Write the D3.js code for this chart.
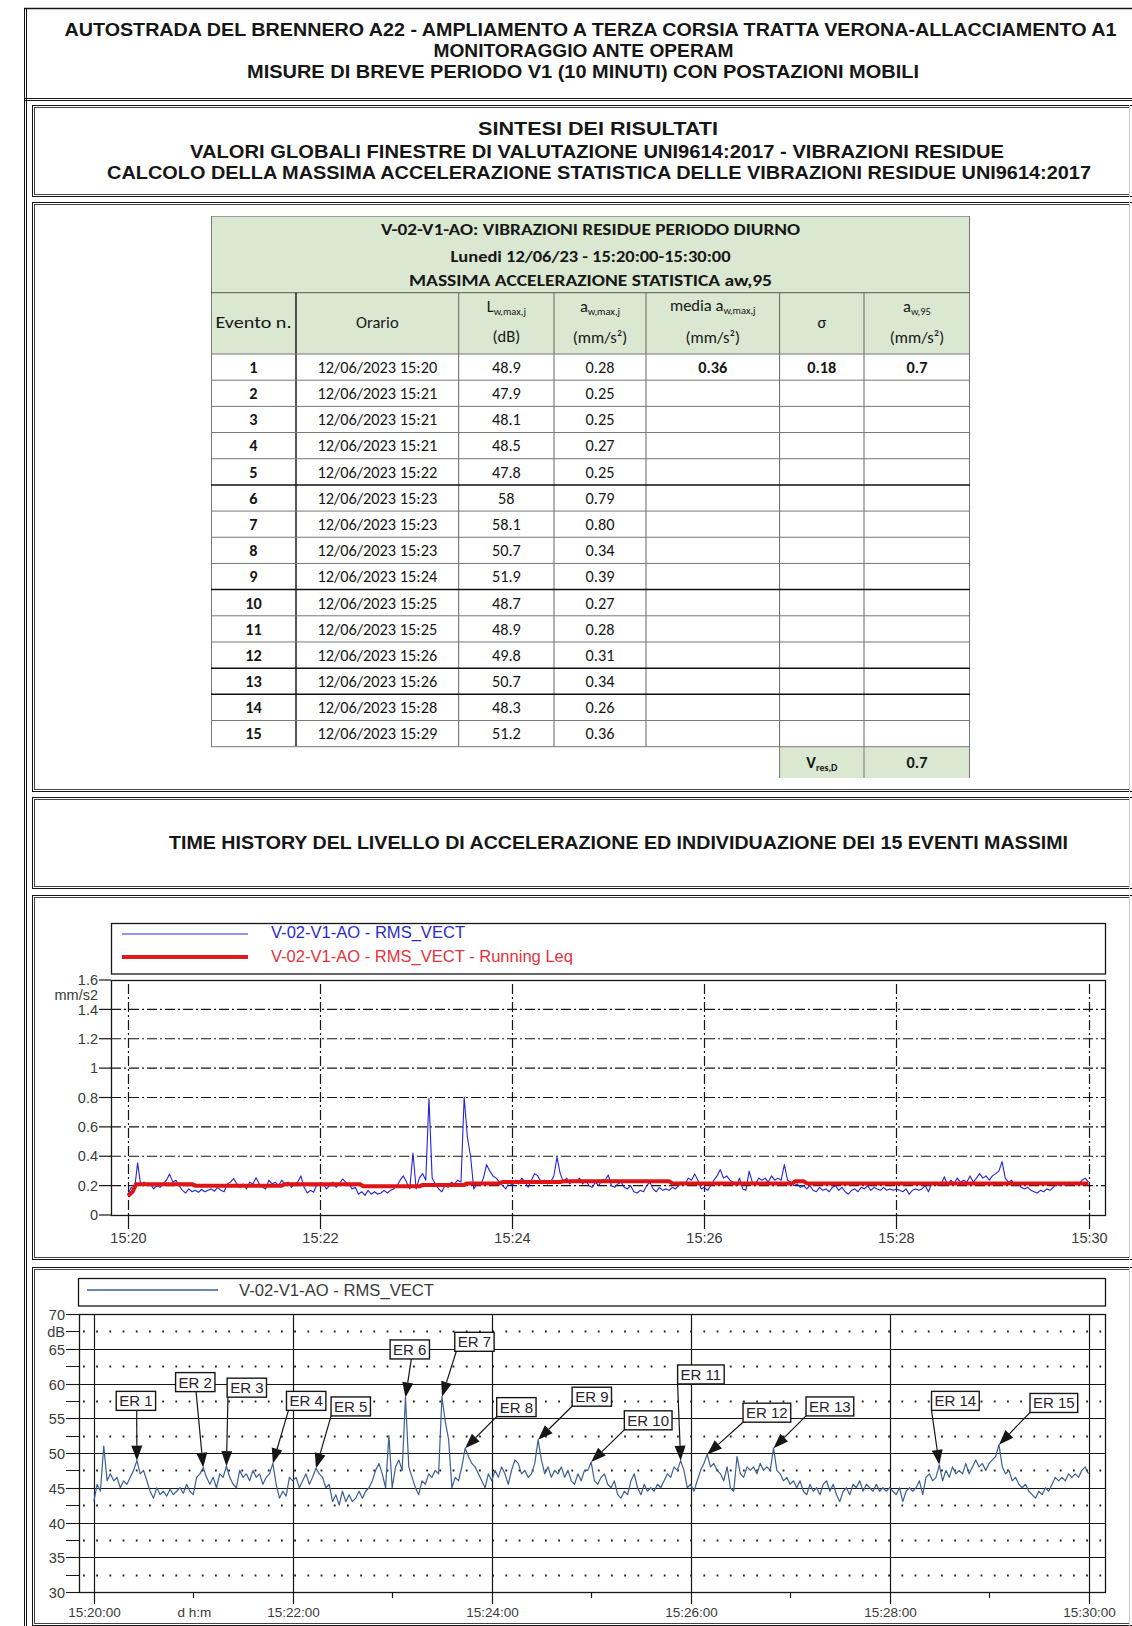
<!DOCTYPE html>
<html>
<head>
<meta charset="utf-8">
<title>V-02-V1-AO - vibrazioni residue</title>
<script src="https://cdn.jsdelivr.net/npm/d3@7/dist/d3.min.js"></script>
<style>
  html, body { margin: 0; padding: 0; background: #fff; }
  svg { display: block; }
</style>
</head>
<body>
<svg id="page" width="1132" height="1626"></svg>
<script>
// ---------------- report headings ----------------
const reportTitle = [
  "AUTOSTRADA DEL BRENNERO A22 - AMPLIAMENTO A TERZA CORSIA TRATTA VERONA-ALLACCIAMENTO A1",
  "MONITORAGGIO ANTE OPERAM",
  "MISURE DI BREVE PERIODO V1 (10 MINUTI) CON POSTAZIONI MOBILI"
];
const summaryTitle = [
  "SINTESI DEI RISULTATI",
  "VALORI GLOBALI FINESTRE DI VALUTAZIONE UNI9614:2017 - VIBRAZIONI RESIDUE",
  "CALCOLO DELLA MASSIMA ACCELERAZIONE STATISTICA DELLE VIBRAZIONI RESIDUE UNI9614:2017"
];
const historyTitle = "TIME HISTORY DEL LIVELLO DI ACCELERAZIONE ED INDIVIDUAZIONE DEI 15 EVENTI MASSIMI";

// ---------------- event table ----------------
const tableCaption = [
  "V-02-V1-AO: VIBRAZIONI RESIDUE PERIODO DIURNO",
  "Lunedi 12/06/23  - 15:20:00-15:30:00",
  "MASSIMA ACCELERAZIONE STATISTICA aw,95"
];
const eventNumbers = [1, 2, 3, 4, 5, 6, 7, 8, 9, 10, 11, 12, 13, 14, 15];
const eventTimes = [
  "12/06/2023 15:20", "12/06/2023 15:21", "12/06/2023 15:21", "12/06/2023 15:21",
  "12/06/2023 15:22", "12/06/2023 15:23", "12/06/2023 15:23", "12/06/2023 15:23",
  "12/06/2023 15:24", "12/06/2023 15:25", "12/06/2023 15:25", "12/06/2023 15:26",
  "12/06/2023 15:26", "12/06/2023 15:28", "12/06/2023 15:29"
];
const eventLevels = [48.9, 47.9, 48.1, 48.5, 47.8, 58, 58.1, 50.7, 51.9, 48.7, 48.9, 49.8, 50.7, 48.3, 51.2];
const eventAccels = ["0.28", "0.25", "0.25", "0.27", "0.25", "0.79", "0.80", "0.34", "0.39",
                     "0.27", "0.28", "0.31", "0.34", "0.26", "0.36"];
const meanAccel = "0.36";
const sigmaAccel = "0.18";
const aw95Value = "0.7";
const vResDValue = "0.7";

// ---------------- time histories ----------------
const startTime = new Date(2023, 5, 12, 15, 20, 0);
const endTime = new Date(2023, 5, 12, 15, 30, 0);
const sampleStepSec = 2;
// RMS_VECT level, dB re 1e-6 m/s2, one value every 2 s from 15:20:00
const levelDb = [
  43.0,45.5,44.5,51.0,46.0,47.0,46.0,46.5,45.0,46.0,
  45.5,46.5,47.5,48.9,47.0,47.5,46.0,44.5,43.5,45.0,
  44.0,44.5,43.8,44.8,44.0,44.5,45.0,44.2,45.5,44.5,
  44.0,46.5,47.0,47.9,46.5,45.5,46.5,45.0,47.0,46.5,
  48.1,46.5,45.5,45.0,47.5,46.5,47.0,46.0,47.5,46.5,
  47.0,45.5,46.5,47.0,48.5,45.5,43.5,44.5,43.8,46.5,
  46.0,46.5,45.0,46.0,47.0,45.5,46.5,47.8,47.0,46.5,
  45.0,45.5,43.0,44.0,42.5,44.5,43.0,44.0,43.0,43.5,
  44.5,43.5,44.5,45.0,46.0,47.5,48.5,47.0,45.0,52.5,
  45.0,48.0,49.0,47.5,58.0,48.0,46.5,45.0,44.0,46.0,
  45.5,47.0,46.5,47.5,47.0,58.1,54.5,52.0,45.0,46.5,
  46.0,48.0,50.7,49.5,48.5,48.0,47.0,46.0,45.0,47.0,
  46.0,47.5,46.5,48.0,47.0,45.5,47.5,49.0,48.5,47.0,
  47.5,46.5,47.0,48.5,51.9,49.0,47.0,48.0,46.5,47.5,
  47.0,48.0,46.5,47.5,46.0,45.5,47.0,46.0,47.5,47.5,
  48.7,46.0,45.5,46.5,47.0,45.5,45.0,46.0,44.0,43.5,
  44.5,44.0,46.0,47.0,45.0,44.0,45.5,44.5,45.0,44.5,
  45.5,45.0,46.0,47.0,46.5,48.0,47.5,48.9,47.5,45.0,
  45.5,44.5,46.0,47.5,48.5,49.8,48.0,48.5,47.5,47.0,
  46.0,48.0,45.0,44.5,49.5,47.0,46.5,48.0,47.5,48.0,
  47.0,48.5,47.5,48.0,47.5,50.7,47.5,47.0,46.0,46.5,
  45.5,46.0,45.0,46.0,44.5,44.0,45.5,44.5,45.0,44.0,
  45.5,46.0,44.5,45.5,44.0,43.0,44.5,45.0,44.0,45.5,
  45.0,46.0,44.5,45.5,45.0,44.5,45.5,44.5,45.0,44.5,
  45.0,44.5,44.0,45.0,43.0,44.5,45.0,44.5,45.0,46.0,
  44.0,46.5,47.0,46.0,46.5,48.3,46.0,47.5,46.5,48.0,
  47.0,47.5,47.0,48.5,47.0,48.0,49.0,48.0,48.5,47.5,
  48.5,49.0,49.5,51.2,48.0,47.0,47.5,46.0,46.5,45.5,
  45.0,45.5,44.5,44.0,43.5,44.5,44.0,45.0,44.5,45.5,
  46.5,46.0,46.5,46.0,47.0,46.5,47.0,46.5,47.5,48.0,
  47.0
];
// Running Leq of the acceleration, [seconds from 15:20:00, mm/s2]
const runningLeq = [
  [0, 0.13], [3, 0.16], [5, 0.21], [40, 0.21], [42, 0.2], [96, 0.2], [98, 0.21],
  [145, 0.21], [147, 0.195], [182, 0.195], [184, 0.205], [210, 0.205], [212, 0.215],
  [232, 0.215], [234, 0.225], [270, 0.225], [272, 0.23], [338, 0.23], [340, 0.215],
  [415, 0.215], [417, 0.23], [422, 0.23], [424, 0.215], [600, 0.215]
];
// ER callouts: event instant (s from 15:20:00), box centre (s, dB), arrow start along box bottom
const eventOffsetSec = [26, 66, 80, 108, 134, 188, 210, 224, 268, 300, 354, 370, 410, 510, 546];
const eventLabelAt = [
  [25.4, 57.5], [61.2, 60.2], [92.3, 59.4], [128.1, 57.5], [155, 56.7],
  [190.6, 64.9], [229.6, 66.0], [254.9, 56.6], [300.4, 58.1], [334.4, 54.7],
  [366.2, 61.3], [406, 55.8], [444, 56.7], [519.7, 57.5], [579.1, 57.2]
];
const eventArrowFrom = [0.52, 0.52, 0.02, 0.05, 0, 0.54, 0.04, 0, 0, 0, 0, 0, 0, 0, 0];

const accelTicks = [0, 0.2, 0.4, 0.6, 0.8, 1, 1.2, 1.4, 1.6];
const levelTicks = [30, 35, 40, 45, 50, 55, 60, 65, 70];
const levelHalfTicks = [32.5, 37.5, 42.5, 47.5, 52.5, 57.5, 62.5, 67.5];

// ---------------- drawing ----------------
const svg = d3.select("#page");
const ARIAL = "'Liberation Sans', Arial, Helvetica, sans-serif";
const CALIBRI = "Carlito, Lato, 'Open Sans', sans-serif";
const INK = "#161616";
const at = s => new Date(+startTime + s * 1000);

function line(g, x1, y1, x2, y2, stroke = INK, w = 1, dash = null) {
  const l = g.append("line").attr("x1", x1).attr("y1", y1).attr("x2", x2).attr("y2", y2)
    .attr("stroke", stroke).attr("stroke-width", w);
  if (dash) l.attr("stroke-dasharray", dash);
  return l;
}
function label(g, str, x, yc, size, opts = {}) {
  const t = g.append("text").attr("x", x).attr("y", yc + size * 0.36)
    .attr("font-family", opts.family || ARIAL).attr("font-size", size)
    .attr("font-weight", opts.bold ? "bold" : "normal")
    .attr("fill", opts.fill || INK)
    .attr("text-anchor", opts.anchor || "middle")
    .text(str);
  if (opts.width) t.attr("textLength", opts.width).attr("lengthAdjust", "spacingAndGlyphs");
  return t;
}

// page frame
const frame = svg.append("g");
line(frame, 24.5, 8, 24.5, 1626);
line(frame, 26.5, 8, 26.5, 1626);
line(frame, 24, 8.5, 1132, 8.5, INK, 1.6);
line(frame, 24, 98.5, 1132, 98.5);
line(frame, 24, 100.5, 1132, 100.5);

function section(y0, y1) {
  line(frame, 32, y0 + 0.5, 1132, y0 + 0.5);
  line(frame, 34, y0 + 2.5, 1129, y0 + 2.5, "#444");
  line(frame, 32.5, y0, 32.5, y1);
  line(frame, 34.5, y0 + 2, 34.5, y1 - 2, "#444");
  line(frame, 32, y1 - 0.5, 1132, y1 - 0.5);
  line(frame, 34, y1 - 2.5, 1129, y1 - 2.5, "#444");
  line(frame, 1129.5, y0, 1129.5, y1, "#c8c8c8");
}
section(105, 197);
section(202, 792);
section(797, 889);
section(895, 1260);
section(1267, 1626);

// headings
const head = svg.append("g");
const titleGeom = [[590.5, 29.5, 1052], [583.5, 50.5, 300], [583, 71.5, 672]];
reportTitle.forEach((s, i) => label(head, s, titleGeom[i][0], titleGeom[i][1], 18, { bold: true, width: titleGeom[i][2] }));
const summaryGeom = [[598, 128.5, 240], [597, 151.5, 814], [599, 173, 984]];
summaryTitle.forEach((s, i) => label(head, s, summaryGeom[i][0], summaryGeom[i][1], 18, { bold: true, width: summaryGeom[i][2] }));
label(head, historyTitle, 618.5, 843, 18, { bold: true, width: 899 });

// ---------------- table ----------------
const tab = svg.append("g");
const cols = [211, 296, 458.7, 554, 646, 779.6, 864, 970];
const capTop = 216, headTop = 292.7, bodyTop = 354, rowH = 26.18;
const bodyBottom = bodyTop + rowH * eventNumbers.length;
const GREEN = "#dae8d2";
tab.append("rect").attr("x", cols[0]).attr("y", capTop).attr("width", cols[7] - cols[0])
  .attr("height", bodyTop - capTop).attr("fill", GREEN);
tab.append("rect").attr("x", cols[5]).attr("y", bodyBottom).attr("width", cols[7] - cols[5])
  .attr("height", 31.3).attr("fill", GREEN);

const capY = [229, 256.5, 280.5], capW = [419, 280, 363];
tableCaption.forEach((s, i) => label(tab, s, 590.5, capY[i], 16, { bold: true, family: CALIBRI, width: capW[i] }));

// grid
line(tab, cols[0], capTop + 0.5, cols[7], capTop + 0.5, "#9a9a9a");
line(tab, cols[0] + 0.5, capTop, cols[0] + 0.5, bodyBottom, "#777");
line(tab, cols[7] - 0.5, capTop, cols[7] - 0.5, bodyBottom, "#777");
line(tab, cols[0], headTop, cols[7], headTop, "#555");
cols.slice(1, 7).forEach((cx, i) => {
  line(tab, cx, headTop, cx, bodyBottom, i === 0 ? "#111" : "#666", i === 0 ? 1.4 : 1);
});
const heavyRows = [5, 9, 12, 13];
d3.range(eventNumbers.length + 1).forEach(i => {
  const heavy = heavyRows.includes(i);
  line(tab, cols[0], bodyTop + i * rowH, cols[7], bodyTop + i * rowH, heavy ? "#111" : "#777", heavy ? 1.5 : 1);
});
[cols[5], cols[6], cols[7] - 0.5].forEach(cx => line(tab, cx, bodyBottom, cx, bodyBottom + 31.3, "#777"));

// header cells
const HF = 16.5;
function colMid(i) { return (cols[i] + cols[i + 1]) / 2; }
function headerWithSub(g, main, sub, x, yc) {
  const t = g.append("text").attr("x", x).attr("y", yc + HF * 0.36).attr("text-anchor", "middle")
    .attr("font-family", CALIBRI).attr("font-size", HF).attr("fill", INK);
  t.append("tspan").text(main);
  t.append("tspan").attr("font-size", 10.5).attr("dy", 3).text(sub);
  return t;
}
label(tab, "Evento n.", colMid(0), 322, HF, { family: CALIBRI, width: 76 });
label(tab, "Orario", colMid(1), 322, HF, { family: CALIBRI });
headerWithSub(tab, "L", "w,max,j", colMid(2), 306);
label(tab, "(dB)", colMid(2), 336, HF, { family: CALIBRI });
headerWithSub(tab, "a", "w,max,j", colMid(3), 306);
label(tab, "(mm/s\u00b2)", colMid(3), 337, HF, { family: CALIBRI });
headerWithSub(tab, "media a", "w,max,j", colMid(4), 305);
label(tab, "(mm/s\u00b2)", colMid(4), 337, HF, { family: CALIBRI });
label(tab, "\u03c3", colMid(5), 322, HF, { family: CALIBRI });
headerWithSub(tab, "a", "w,95", colMid(6), 306);
label(tab, "(mm/s\u00b2)", colMid(6), 337, HF, { family: CALIBRI });

// body rows
const BF = 16.3;
eventNumbers.forEach((n, i) => {
  const yc = bodyTop + i * rowH + rowH / 2;
  label(tab, String(n), colMid(0), yc, BF, { family: CALIBRI, bold: true });
  label(tab, eventTimes[i], colMid(1), yc, BF, { family: CALIBRI });
  label(tab, String(eventLevels[i]), colMid(2), yc, BF, { family: CALIBRI });
  label(tab, eventAccels[i], colMid(3), yc, BF, { family: CALIBRI });
});
const firstRowY = bodyTop + rowH / 2;
label(tab, meanAccel, colMid(4), firstRowY, BF, { family: CALIBRI, bold: true });
label(tab, sigmaAccel, colMid(5), firstRowY, BF, { family: CALIBRI, bold: true });
label(tab, aw95Value, colMid(6), firstRowY, BF, { family: CALIBRI, bold: true });
const vresY = bodyBottom + 15.5;
const vt = tab.append("text").attr("x", colMid(5)).attr("y", vresY + BF * 0.36).attr("text-anchor", "middle")
  .attr("font-family", CALIBRI).attr("font-size", BF).attr("font-weight", "bold").attr("fill", INK);
vt.append("tspan").text("V");
vt.append("tspan").attr("font-size", 10).attr("dy", 3).text("res,D");
label(tab, vResDValue, colMid(6), vresY, BF, { family: CALIBRI, bold: true });

// ---------------- chart 1: acceleration (mm/s2) ----------------
const c1 = svg.append("g");
const P1 = { left: 111, right: 1106, top: 980, bottom: 1215 };
const x1 = d3.scaleTime().domain([startTime, endTime]).range([128, 1088.5]);
const y1 = d3.scaleLinear().domain([0, 1.6]).range([P1.bottom, P1.top]);
const DASHDOT = "10,3,2,3";

// legend
c1.append("rect").attr("x", P1.left + 0.5).attr("y", 923.5).attr("width", P1.right - P1.left - 1)
  .attr("height", 50.5).attr("fill", "#fff").attr("stroke", INK).attr("stroke-width", 1.3);
line(c1, 122, 934, 248, 934, "#2b2bd6", 1.2);
line(c1, 122, 957, 248, 957, "#e01b1b", 4.2);
label(c1, "V-02-V1-AO - RMS_VECT", 271, 932, 16, { anchor: "start", fill: "#2b2bd0", width: 194 });
label(c1, "V-02-V1-AO - RMS_VECT - Running Leq", 271, 956, 16, { anchor: "start", fill: "#e5323a", width: 302 });

// grid
accelTicks.forEach(v => {
  const yy = y1(v);
  line(c1, 99, yy, P1.left, yy, INK, 1.2);
  if (v > 0 && v < 1.6) line(c1, P1.left, yy, P1.right, yy, INK, 1.2, DASHDOT);
  label(c1, String(v), 98, yy, 14.5, { anchor: "end", fill: "#3a3a3a" });
});
label(c1, "mm/s2", 98, 995, 14.5, { anchor: "end", fill: "#3a3a3a" });
x1.ticks(d3.timeMinute.every(2)).forEach(d => {
  const xx = Math.round(x1(d)) + 0.5;
  line(c1, xx, 984, xx, P1.bottom, INK, 1.2, DASHDOT);
  line(c1, xx, P1.bottom, xx, 1229, INK, 1.2);
  label(c1, d3.timeFormat("%H:%M")(d), xx, 1238, 14.5, { fill: "#3a3a3a" });
});

// series (acceleration from the level: a = 10^(L/20) * 1e-3 mm/s2)
const accelSeries = levelDb.map((L, i) => ({ t: at(i * sampleStepSec), a: Math.pow(10, L / 20) / 1000 }));
c1.append("path").datum(accelSeries)
  .attr("d", d3.line().x(d => x1(d.t)).y(d => y1(d.a)))
  .attr("fill", "none").attr("stroke", "#2424d8").attr("stroke-width", 1.1).attr("stroke-linejoin", "round");
c1.append("path").datum(runningLeq)
  .attr("d", d3.line().x(d => x1(at(d[0]))).y(d => y1(d[1])))
  .attr("fill", "none").attr("stroke", "#e01414").attr("stroke-width", 4).attr("stroke-linejoin", "round");

c1.append("rect").attr("x", P1.left + 0.5).attr("y", P1.top + 0.5)
  .attr("width", P1.right - P1.left - 1).attr("height", P1.bottom - P1.top)
  .attr("fill", "none").attr("stroke", INK).attr("stroke-width", 1.3);

// ---------------- chart 2: level (dB) with ER events ----------------
const c2 = svg.append("g");
const P2 = { left: 79, right: 1106, top: 1314, bottom: 1592 };
const x2 = d3.scaleTime().domain([startTime, endTime]).range([93.8, 1088.5]);
const y2 = d3.scaleLinear().domain([30, 70]).range([P2.bottom, P2.top]);
const TRACE = "#3b5f94";

c2.append("rect").attr("x", 78.5).attr("y", 1278.5).attr("width", P2.right - 79)
  .attr("height", 27.5).attr("fill", "#fff").attr("stroke", INK).attr("stroke-width", 1.3);
line(c2, 87, 1290, 218, 1290, TRACE, 1.3);
label(c2, "V-02-V1-AO - RMS_VECT", 239, 1290, 16, { anchor: "start", fill: "#3a3a3a", width: 195 });

levelHalfTicks.forEach(v => {
  const yy = Math.round(y2(v)) + 0.5;
  line(c2, 66, yy, P2.left, yy, INK, 1);
  line(c2, P2.left + 4, yy, P2.right, yy, "#222", 1.8, "1.8,11.4");
});
levelTicks.forEach(v => {
  const yy = Math.round(y2(v)) + 0.5;
  line(c2, 66, yy, P2.left, yy, INK, 1.1);
  if (v > 30 && v < 70) line(c2, P2.left, yy, P2.right, yy, INK, 1.2);
  label(c2, String(v), 65, yy, 14.5, { anchor: "end", fill: "#3a3a3a" });
});
label(c2, "dB", 65, y2(67.5), 14.5, { anchor: "end", fill: "#3a3a3a" });

x2.ticks(d3.timeMinute.every(1)).forEach(d => {
  const xx = Math.round(x2(d)) + 0.5;
  if (d.getMinutes() % 2 === 0) {
    line(c2, xx, P2.top, xx, 1604, INK, 1.2);
    label(c2, d3.timeFormat("%H:%M:%S")(d), xx, 1612, 13.5, { fill: "#3a3a3a" });
  } else {
    line(c2, xx, P2.bottom, xx, 1598, INK, 1.2);
  }
});
label(c2, "d h:m", x2(at(60)) + 1, 1612, 13.5, { fill: "#3a3a3a" });

const levelSeries = levelDb.map((L, i) => ({ t: at(i * sampleStepSec), L }));
c2.append("path").datum(levelSeries)
  .attr("d", d3.line().x(d => x2(d.t)).y(d => y2(d.L)))
  .attr("fill", "none").attr("stroke", TRACE).attr("stroke-width", 1.2).attr("stroke-linejoin", "round");

c2.append("rect").attr("x", P2.left + 0.5).attr("y", P2.top + 0.5)
  .attr("width", P2.right - P2.left - 1).attr("height", P2.bottom - P2.top)
  .attr("fill", "none").attr("stroke", INK).attr("stroke-width", 1.3);

// ER callouts
const er = c2.append("g");
eventOffsetSec.forEach((s, i) => {
  const tip = [x2(at(s)), y2(eventLevels[i])];
  const cx = x2(at(eventLabelAt[i][0])), cy = y2(eventLabelAt[i][1]);
  const g = er.append("g");
  const txt = label(g, "ER " + eventNumbers[i], cx, cy, 15, { fill: "#2a2230" });
  const tw = txt.node().getComputedTextLength();
  const bw = tw + 6, bh = 19;
  const start = [cx - bw / 2 + eventArrowFrom[i] * bw, cy + bh / 2];
  const dx = tip[0] - start[0], dy = tip[1] - start[1];
  const len = Math.hypot(dx, dy), ux = dx / len, uy = dy / len;
  const headL = 15, headW = 5.5;
  const base = [tip[0] - ux * headL, tip[1] - uy * headL];
  g.insert("line", "text").attr("x1", start[0]).attr("y1", start[1]).attr("x2", base[0]).attr("y2", base[1])
    .attr("stroke", INK).attr("stroke-width", 1.2);
  g.insert("path", "text").attr("d", `M${tip[0]},${tip[1]}L${base[0] - uy * headW},${base[1] + ux * headW}L${base[0] + uy * headW},${base[1] - ux * headW}Z`)
    .attr("fill", INK);
  g.insert("rect", "text").attr("x", cx - bw / 2).attr("y", cy - bh / 2).attr("width", bw).attr("height", bh)
    .attr("fill", "#fff").attr("stroke", INK).attr("stroke-width", 1.4);
});
</script>
</body>
</html>
